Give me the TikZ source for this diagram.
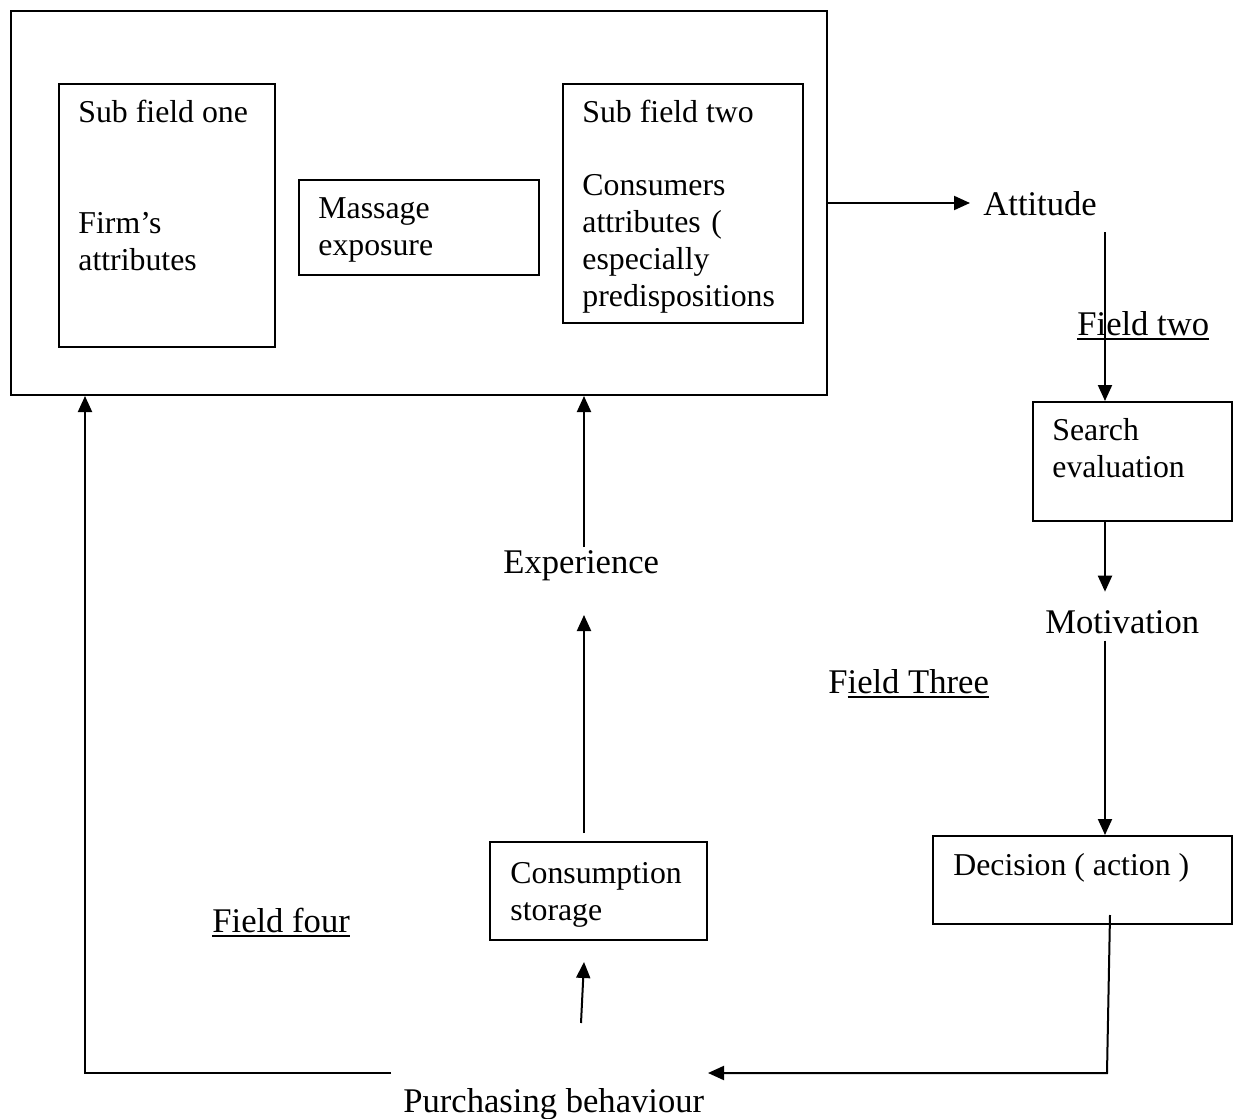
\documentclass[tikz,border=0pt]{standalone}
\usepackage{fontspec}
\setmainfont{Liberation Serif}
\usepackage{tikz}
\usetikzlibrary{arrows.meta}

\newcommand{\ulword}[1]{\setbox0\hbox{#1}\rlap{\rule[-2.6pt]{\wd0}{0.9pt}}\box0}

\tikzset{
  box/.style={draw, line width=1pt, inner sep=0pt, anchor=north west},
  txt/.style={inner sep=0pt, anchor=base west, align=left, font=\fontsize{17.3}{18.5}\selectfont},
  boxtxt/.style={txt, font=\fontsize{15.9}{18.5}\selectfont},
  arr/.style={line width=1pt, -{Triangle[length=8pt,width=7pt]}}
}

\begin{document}
\begin{tikzpicture}[x=0.5pt,y=-0.5pt]
\useasboundingbox (0,0) rectangle (1238,1119);

	\node[box, minimum width=408pt, minimum height=192pt] (outer) at (10,10) {};
	\node[box, minimum width=108pt, minimum height=131.5pt] (subone) at (58,83) {};
	\node[box, minimum width=120pt, minimum height=47.5pt] (massage) at (298,179) {};
	\node[box, minimum width=120pt, minimum height=119.5pt] (subtwo) at (562,83) {};
	\node[box, minimum width=99.5pt, minimum height=59.5pt] (search) at (1032,401) {};
	\node[box, minimum width=149.5pt, minimum height=44pt] (decision) at (932,835) {};
	\node[box, minimum width=108.5pt, minimum height=49pt] (consum) at (489,841) {};

	\node[boxtxt] (subonetitle) at (78,122) {Sub field one};
	\node[boxtxt, text width=100pt] (subonetext) at (78,233) {Firm’s\\attributes};
	\node[boxtxt, text width=100pt] (massagetext) at (318,218) {Massage\\exposure};
	\node[boxtxt] (subtwotitle) at (582,122) {Sub field two};
	\node[boxtxt, text width=110pt] (subtwotext) at (582,195) {Consumers\\attributes (\\especially\\predispositions};
	\node[txt] (attitude) at (983,215) {Attitude};
	\node[txt] (fieldtwo) at (1077,335) {\ulword{Field two}};
	\node[boxtxt, text width=90pt] (searchtext) at (1052,440) {Search\\evaluation};
	\node[txt] (motivation) at (1045,633) {Motivation};
	\node[txt] (fieldthree) at (828,693) {F\ulword{ield Three}};
	\node[boxtxt] (decisiontext) at (953,875) {Decision ( action )};
	\node[txt] (experience) at (503,573) {Experience};
	\node[boxtxt, text width=100pt] (consumtext) at (510,883) {Consumption\\storage};
	\node[txt] (fieldfour) at (212,932) {\ulword{Field four}};
	\node[txt] (purchasing) at (403,1112) {Purchasing behaviour};

	\coordinate (attdown) at (1105,232);
	\coordinate (decout) at (1110,915);
	\coordinate (deccorner) at (1107,1073);
	\coordinate (purchin) at (708,1073);
	\coordinate (purchout) at (391,1073);
	\coordinate (feedback) at (85,1073);
	\coordinate (purchup) at (581,1023);
	\coordinate (consumin) at (584,962);
	\coordinate (expline) at (584,615);
	\coordinate (expout) at (584,547);

	\draw[arr, shorten >=6.5pt] (outer.east) -- (outer.east -| attitude.west);
	\draw[arr] (attdown) -- (attdown |- search.north);
	\draw[arr, shorten >=9pt] (attdown |- search.south) -- (attdown |- motivation.north);
	\draw[arr, shorten <=3.5pt] (attdown |- motivation.south) -- (attdown |- decision.north);
	\draw[arr] (decout) -- (deccorner) -- (purchin);
	\draw[arr] (purchout) -- (feedback) -- (feedback |- outer.south);
	\draw[arr] (purchup) -- (consumin);
	\draw[arr, shorten <=4pt] (expline |- consum.north) -- (expline);
	\draw[arr] (expout) -- (expout |- outer.south);
\end{tikzpicture}
\end{document}
